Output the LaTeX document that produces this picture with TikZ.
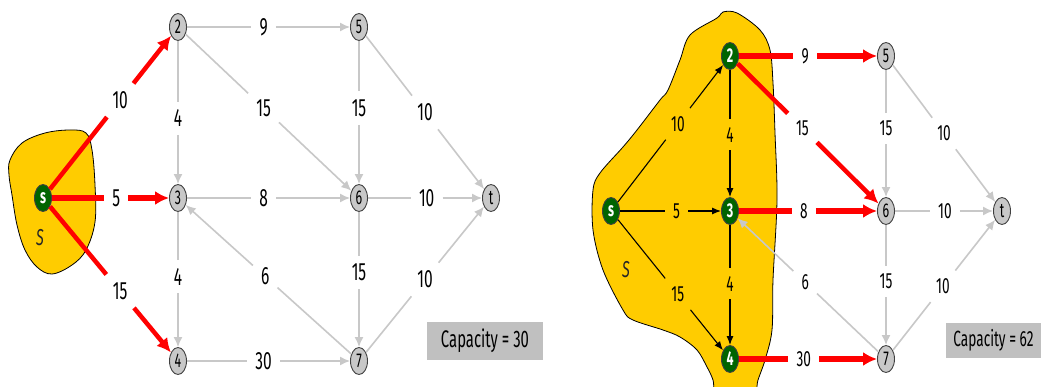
\documentclass[tikz,border=0pt]{standalone}
\usepackage{fontspec}
\setmainfont{Fira Sans}[FakeStretch=0.62]
\usetikzlibrary{arrows.meta,shapes.geometric}

\definecolor{nodegray}{RGB}{200,200,200}
\definecolor{edgegray}{RGB}{200,200,200}
\definecolor{cutyellow}{RGB}{255,204,0}
\definecolor{srcgreen}{RGB}{0,100,0}
\definecolor{boxgray}{RGB}{192,192,192}

\tikzset{
  vtx/.style={ellipse, draw=black!75, line width=0.9pt, fill=nodegray,
    minimum width=17pt, minimum height=27pt, inner sep=0pt,
    font=\fontsize{20}{20}\selectfont},
  srcvtx/.style={vtx, fill=srcgreen, text=white,
    font=\fontsize{20}{20}\selectfont\bfseries},
  capbig/.style={inner sep=8pt, font=\fontsize{25}{25}\selectfont},
  capsmall/.style={inner sep=8pt, font=\fontsize{22}{22}\selectfont},
  gline/.style={draw=edgegray, line width=1.6pt},
  garr/.style={gline, -{Latex[length=10pt,width=9pt]}},
  rline/.style={draw=red, line width=4.5pt},
  rarr/.style={rline, -{Latex[length=14pt,width=14pt]}},
  bline/.style={draw=black, line width=1.1pt},
  barr/.style={bline, -{Latex[length=9pt,width=7pt]}},
  cutset/.style={fill=cutyellow, draw=black, line width=0.8pt},
  setname/.style={text=black!85, font=\fontsize{23}{23}\selectfont\itshape},
  capbox/.style={fill=boxgray, inner sep=0pt},
}

% edge split by its capacity label: line style, arrow style, from, to, pos, text
\newcommand\capedge[6]{%
  \path (#3) -- node[lab, pos=#5] (#3#4) {#6} (#4);
  \draw[#1] (#3) -- (#3#4);
  \draw[#2] (#3#4) -- (#4);
}

\begin{document}
\begin{tikzpicture}[x=1pt, y=-1pt]
\clip (0,0) rectangle (1041,387);
\fill[white] (0,0) rectangle (1041,387);

% ---------- left network: cut {s} ----------
\draw[cutset] plot[smooth cycle, tension=0.6] coordinates {
  (10,160) (22,143) (45,133) (70,130) (86,133) (92,150) (95,185)
  (95,222) (86,250) (72,265) (52,274) (37,267) (25,250) (17,225)
  (12,195) (9,175)};
\node[setname] (lS) at (40,238) {S};

\node[srcvtx] (ls) at (43,198) {s};
\node[vtx] (l2) at (178,27) {2};
\node[vtx] (l3) at (178,198) {3};
\node[vtx] (l4) at (178,361) {4};
\node[vtx] (l5) at (359,27) {5};
\node[vtx] (l6) at (359,198) {6};
\node[vtx] (l7) at (359,361) {7};
\node[vtx] (lt) at (491,198) {t};

\begin{scope}[lab/.style={capbig}]
  \capedge{rline}{rarr}{ls}{l2}{0.58}{10}
  \capedge{rline, line width=5.5pt}{rarr, line width=5.5pt}{ls}{l3}{0.55}{5}
  \capedge{rline}{rarr}{ls}{l4}{0.58}{15}
  \capedge{gline}{garr}{l2}{l5}{0.47}{9}
  \capedge{gline}{garr}{l2}{l3}{0.54}{4}
  \capedge{gline}{garr}{l2}{l6}{0.47}{15}
  \capedge{gline}{garr}{l3}{l6}{0.47}{8}
  \capedge{gline}{garr}{l3}{l4}{0.48}{4}
  \capedge{gline}{garr}{l7}{l3}{0.52}{6}
  \capedge{gline}{garr}{l4}{l7}{0.47}{30}
  \capedge{gline}{garr}{l5}{l6}{0.47}{15}
  \capedge{gline}{garr}{l6}{l7}{0.45}{15}
  \capedge{gline}{garr}{l5}{lt}{0.5}{10}
  \capedge{gline}{garr}{l6}{lt}{0.515}{10}
  \capedge{gline}{garr}{l7}{lt}{0.5}{10}
\end{scope}

\node[capbox, minimum width=116pt, minimum height=38pt,
  font=\fontsize{24}{24}\selectfont] (lcap) at (485,341) {Capacity = 30};

% ---------- right network: cut {s,2,3,4} ----------
\draw[cutset] plot[smooth cycle, tension=0.55] coordinates {
  (723,12) (737,13) (760,30) (770,50) (773,83) (775,133) (777,200)
  (773,280) (772,330) (765,360) (758,380) (752,400) (718,400)
  (713,380) (707,367) (697,350) (680,337) (663,330) (633,320)
  (623,310) (603,270) (593,230) (593,190) (600,173) (623,147)
  (637,130) (660,100) (668,90) (680,60) (690,35) (717,18)};
\node[setname] (rS) at (626,270) {S};

\node[srcvtx] (rs) at (611,211) {s};
\node[srcvtx] (r2) at (730,56) {2};
\node[srcvtx] (r3) at (730,211) {3};
\node[srcvtx] (r4) at (730,359) {4};
\node[vtx] (r5) at (886,56) {5};
\node[vtx] (r6) at (886,211) {6};
\node[vtx] (r7) at (886,359) {7};
\node[vtx] (rt) at (1002,211) {t};

\begin{scope}[lab/.style={capsmall}]
  \capedge{bline}{barr}{rs}{r2}{0.57}{10}
  \capedge{bline}{barr}{rs}{r3}{0.56}{5}
  \capedge{bline}{barr}{rs}{r4}{0.57}{15}
  \capedge{bline}{barr}{r2}{r3}{0.51}{4}
  \capedge{bline}{barr}{r3}{r4}{0.49}{4}
  \capedge{rline, line width=5.5pt}{rarr, line width=5.5pt}{r2}{r5}{0.48}{9}
  \capedge{rline}{rarr}{r2}{r6}{0.46}{15}
  \capedge{rline, line width=5.5pt}{rarr, line width=5.5pt}{r3}{r6}{0.47}{8}
  \capedge{gline}{garr}{r7}{r3}{0.52}{6}
  \capedge{rline, line width=5.5pt}{rarr, line width=5.5pt}{r4}{r7}{0.47}{30}
  \capedge{gline}{garr}{r5}{r6}{0.46}{15}
  \capedge{gline}{garr}{r6}{r7}{0.47}{15}
  \capedge{gline}{garr}{r5}{rt}{0.5}{10}
  \capedge{gline}{garr}{r6}{rt}{0.51}{10}
  \capedge{gline}{garr}{r7}{rt}{0.49}{10}
\end{scope}

\node[capbox, minimum width=95pt, minimum height=35pt,
  font=\fontsize{22}{22}\selectfont] (rcap) at (993.5,340.5) {Capacity = 62};
\end{tikzpicture}
\end{document}
